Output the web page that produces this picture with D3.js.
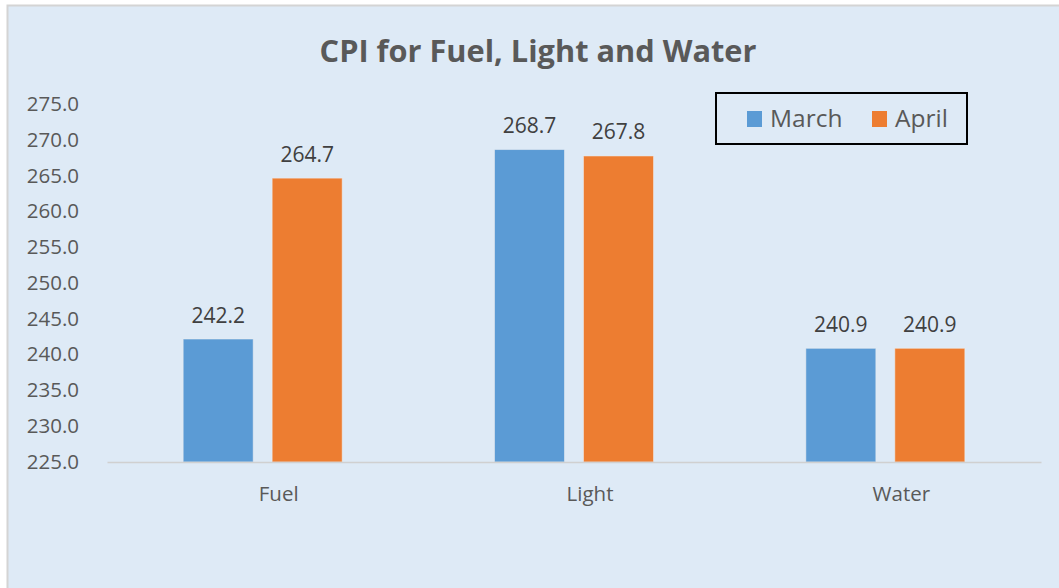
<!DOCTYPE html>
<html><head><meta charset="utf-8">
<script src="https://cdn.jsdelivr.net/npm/d3@7"></script>
<style>body{margin:0;background:#fff;}svg{display:block;}</style>
</head><body>
<svg id="c" width="1059" height="588"></svg>
<script>
const categories = ["Fuel", "Light", "Water"];
const seriesNames = ["March", "April"];
const march = [242.2, 268.7, 240.9];
const april = [264.7, 267.8, 240.9];
const yTicks = [225, 230, 235, 240, 245, 250, 255, 260, 265, 270, 275];
const chartTitle = "CPI for Fuel, Light and Water";

(function () {
const colors = {March: "#5B9BD5", April: "#ED7D31"};
const seriesValues = {March: march, April: april};
const font = "'Open Sans', sans-serif";

const svg = d3.select("#c");
svg.append("rect").attr("x", 7.5).attr("y", 5.5).attr("width", 1060).attr("height", 600)
  .attr("fill", "#DEEAF6").attr("stroke", "#D4D4D4").attr("stroke-width", 2);

const pLeft = 107, pRight = 1041, pTop = 104.5, pBottom = 462;
const y = d3.scaleLinear().domain([225, 275]).range([pBottom, pTop]);
const x0 = d3.scaleBand().domain(categories).range([pLeft, pRight]).padding(0);
const x1 = d3.scaleBand().domain(seriesNames).range([0, x0.bandwidth()])
  .paddingInner(0.2135).paddingOuter(0.856);

// y axis labels
const yAxis = d3.axisLeft(y).tickValues(yTicks).tickFormat(d3.format(".1f")).tickSize(0).tickPadding(0);
const gy = svg.append("g").attr("transform", `translate(79,0)`).call(yAxis);
gy.select(".domain").remove();
gy.selectAll("text").attr("font-family", font).attr("font-size", 20.5).attr("fill", "#595959").attr("dy", "0.3em");

// bars
const groups = svg.append("g").selectAll("g").data(categories).join("g")
  .attr("transform", d => `translate(${x0(d)},0)`);
groups.selectAll("rect").data((d, i) => seriesNames.map(s => ({s, v: seriesValues[s][i]})))
  .join("rect")
  .attr("x", d => x1(d.s)).attr("width", x1.bandwidth())
  .attr("y", d => y(d.v)).attr("height", d => y(225) - y(d.v))
  .attr("fill", d => colors[d.s]).attr("stroke", "#F2F2F2").attr("stroke-opacity", 0.5).attr("stroke-width", 1);
groups.selectAll("text.lbl").data((d, i) => seriesNames.map(s => ({s, v: seriesValues[s][i]})))
  .join("text").attr("class", "lbl")
  .attr("x", d => x1(d.s) + x1.bandwidth() / 2).attr("y", d => y(d.v) - 16.5)
  .attr("text-anchor", "middle").attr("font-family", font).attr("font-size", 21).attr("fill", "#404040")
  .text(d => d.v.toFixed(1));

// x axis
const xAxis = d3.axisBottom(x0).tickSize(0).tickPadding(0);
const gx = svg.append("g").attr("transform", `translate(0,${pBottom})`).call(xAxis);
gx.select(".domain").attr("stroke", "#D0D0D0").attr("stroke-width", 1.5);
gx.selectAll("text").attr("font-family", font).attr("font-size", 20.5).attr("fill", "#595959")
  .attr("dy", 0).attr("y", 38.7).attr("x", 16);

// title
const t = svg.append("text").attr("x", 538).attr("y", 62).attr("text-anchor", "middle")
  .attr("font-family", font).attr("font-weight", "bold").attr("font-size", 28).attr("fill", "#595959")
  .text(chartTitle);
const tw = t.node().getComputedTextLength();
if (tw > 0) t.attr("font-size", 28 * 437 / tw);

// legend
const lg = svg.append("g");
lg.append("rect").attr("x", 716).attr("y", 93).attr("width", 251).attr("height", 51)
  .attr("fill", "none").attr("stroke", "#000").attr("stroke-width", 2);
const legendX = {March: 747, April: 872};
seriesNames.forEach(s => {
  lg.append("rect").attr("x", legendX[s]).attr("y", 111).attr("width", 15).attr("height", 16).attr("fill", colors[s]);
  lg.append("text").attr("x", legendX[s] + 23).attr("y", 127.3).attr("font-family", font).attr("font-size", 24.5)
    .attr("fill", "#595959").text(s);
});
})();
</script>
</body></html>
